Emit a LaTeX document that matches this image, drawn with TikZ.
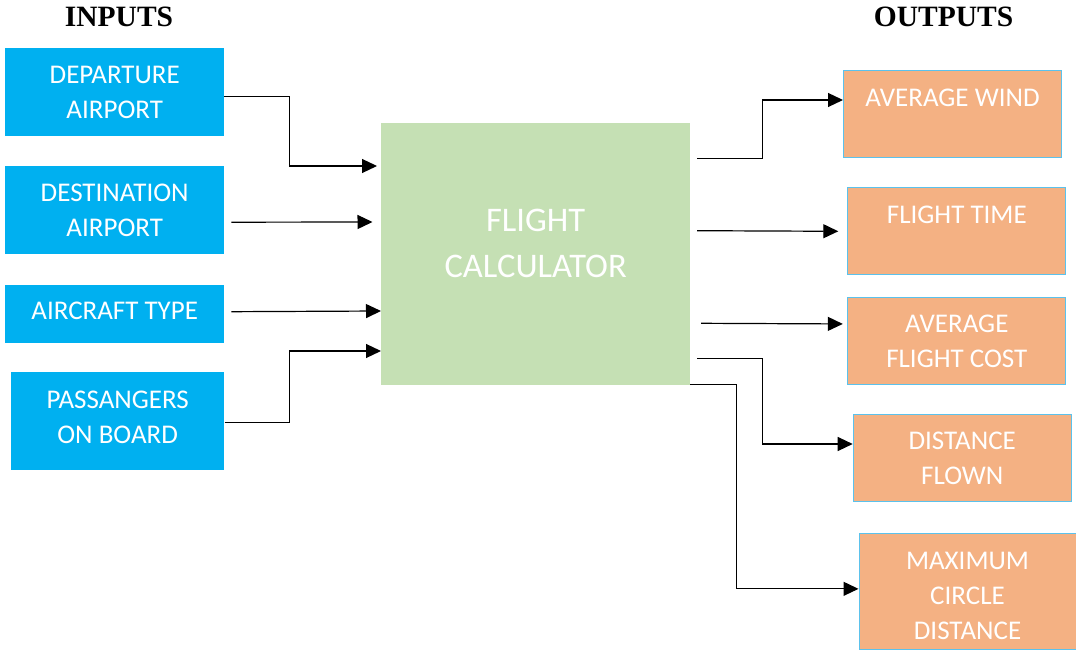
\documentclass[tikz,border=0pt]{standalone}
\usepackage{fontspec}
\setmainfont{Carlito}
\newfontfamily\headfont{Liberation Serif}
\usetikzlibrary{arrows.meta}
\definecolor{inblue}{HTML}{00B0F0}
\definecolor{outorange}{HTML}{F4B183}
\definecolor{calcgreen}{HTML}{C5E0B4}
\definecolor{edgeblue}{HTML}{5BC2EC}
\begin{document}
\begin{tikzpicture}[x=1pt,y=-1pt,
  inbox/.style={fill=inblue, draw=none, inner sep=0pt, anchor=north west, text=white,
    align=center, font=\fontsize{27}{34.5}\selectfont, minimum width=219pt},
  outbox/.style={fill=outorange, draw=edgeblue, line width=1pt, inner sep=0pt, anchor=north west,
    text=white, align=center, font=\fontsize{27}{35}\selectfont, minimum width=218pt},
  calcbox/.style={fill=calcgreen, draw=none, inner sep=0pt, anchor=north west, text=white,
    align=center, font=\fontsize{34.5}{46}\selectfont, minimum width=309pt, minimum height=262pt},
  head/.style={font=\headfont\bfseries\fontsize{29.5}{29.5}\selectfont, text=black, inner sep=0pt},
  conn/.style={draw=black, line width=1.2pt, -{Triangle[length=15pt,width=14pt]}}]
\useasboundingbox (0,0) rectangle (1076,652);

% headings
\node[head] (inh) at (119,17) {INPUTS};
\node[head] (outh) at (943.5,17) {OUTPUTS};

% inputs
\node[inbox, minimum height=88pt] (dep) at (5,48) {DEPARTURE\\AIRPORT};
\node[inbox, minimum height=88pt] (dest) at (5,166) {DESTINATION\\AIRPORT};
\node[inbox, minimum height=58pt] (air) at (5,284.5) {AIRCRAFT TYPE\\[-29pt]\mbox{}};
\node[inbox, minimum width=213.5pt, minimum height=97.5pt] (pas) at (10.7,372) {PASSANGERS\\ON BOARD\\[-27.5pt]\mbox{}};

% calculator
\node[calcbox] (calc) at (381,123) {FLIGHT\\CALCULATOR\\[-24pt]\mbox{}};

% outputs
\node[outbox, minimum height=87pt] (wind) at (843,70) {AVERAGE WIND\\[-12pt]\strut};
\node[outbox, minimum height=87pt] (time) at (847.3,187.3) {FLIGHT TIME\\[-12pt]\strut};
\node[outbox, minimum height=87.5pt] (cost) at (847.3,296.7) {AVERAGE\\FLIGHT COST};
\node[outbox, minimum height=87pt] (flown) at (852.7,414) {DISTANCE\\FLOWN};
\node[outbox, minimum width=217pt, minimum height=116.5pt] (maxc) at (858.5,532.5) {\rule{0pt}{26.4pt}MAXIMUM\\CIRCLE\\DISTANCE};

% input connectors
\draw[conn] ([yshift=-4pt]dep.east) -- ++(65,0) |- ([xshift=-4pt,yshift=-43pt]calc.north west);
\draw[conn] ([xshift=7pt,yshift=-12pt]dest.east) -- ([xshift=-8.5pt,yshift=-99pt]calc.north west);
\draw[conn] ([xshift=7pt,yshift=2pt]air.east) -- ([yshift=-188pt]calc.north west);
\draw[conn] ([yshift=-1.2pt]pas.east) -- ++(64.5,0) |- ([yshift=-228pt]calc.north west);

% output connectors
\draw[conn] ([xshift=7pt,yshift=-35.3pt]calc.north east) -- ++(65,0) |- ([yshift=14pt]wind.west);
\draw[conn] ([xshift=6.7pt,yshift=-107.7pt]calc.north east) -- ([xshift=-9pt]time.west);
\draw[conn] ([xshift=10.7pt,yshift=-200.3pt]calc.north east) -- ([xshift=-4.5pt,yshift=17pt]cost.west);
\draw[conn] ([xshift=7pt,yshift=-235.3pt]calc.north east) -- ++(65.3,0) |- ([yshift=14pt]flown.west);
\draw[conn] ([yshift=0.7pt]calc.south east) -- ++(45.7,0) |- ([yshift=2.4pt]maxc.west);
\end{tikzpicture}
\end{document}
